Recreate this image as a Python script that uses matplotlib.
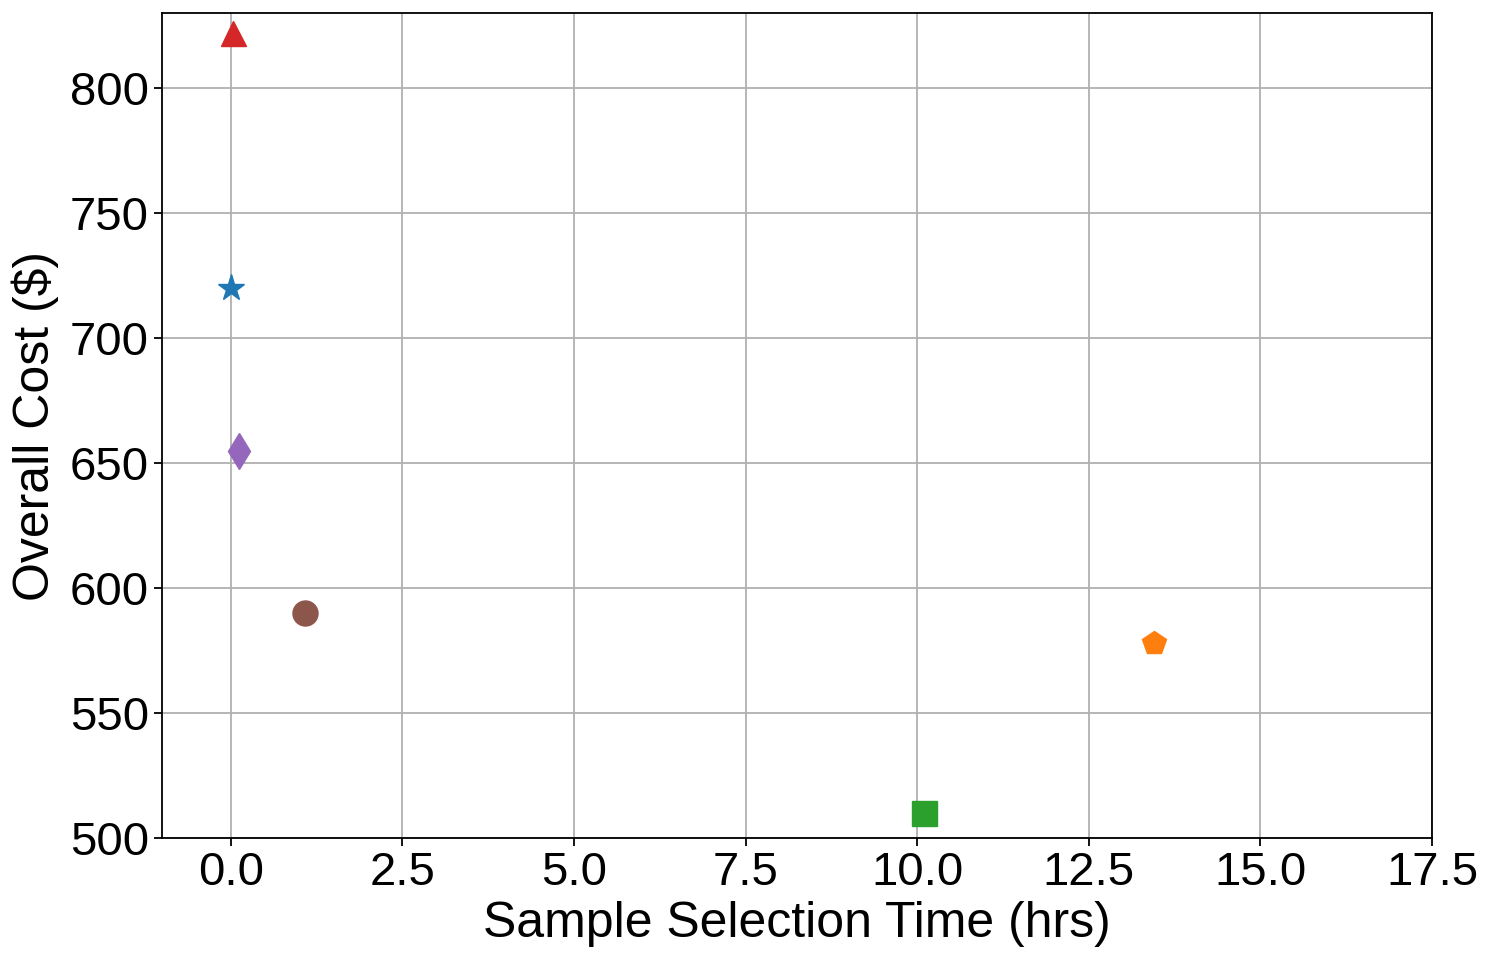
import matplotlib
matplotlib.use("Agg")
import matplotlib.pyplot as plt

plt.rcParams['font.family'] = ['Liberation Sans', 'DejaVu Sans']

methods = ["A", "B", "C", "D", "E", "F"]
times = [0.0, 13.45, 10.1, 0.03, 0.12, 1.08]
costs = [720, 578, 510, 822, 655, 590]
markers = ["*", "p", "s", "^", "d", "o"]
colors = ["#1f77b4", "#ff7f0e", "#2ca02c", "#d62728", "#9467bd", "#8c564b"]

fig = plt.figure(figsize=(14.94, 9.64), dpi=100)
ax = fig.add_axes([162/1494, 1-838/964, (1432-162)/1494, (838-13)/964])

for t, c, m, col in zip(times, costs, markers, colors):
    ms = 19.5 if m == "*" else 18
    ax.plot([t], [c], linestyle="none", marker=m, color=col, markersize=ms, zorder=3)

ax.set_xlim(-1, 17.5)
ax.set_ylim(500, 830)
ax.set_xticks([0, 2.5, 5, 7.5, 10, 12.5, 15, 17.5])
ax.set_xticklabels(["0.0", "2.5", "5.0", "7.5", "10.0", "12.5", "15.0", "17.5"])
ax.set_yticks([500, 550, 600, 650, 700, 750, 800])
ax.grid(True, color="#b0b0b0", linewidth=1.3)
ax.set_axisbelow(True)
ax.tick_params(labelsize=34, length=6, width=1.3)
for s in ax.spines.values():
    s.set_linewidth(1.3)
ax.set_xlabel("Sample Selection Time (hrs)", fontsize=36, labelpad=4)
ax.set_ylabel("Overall Cost ($)", fontsize=36, labelpad=8)

fig.savefig("out.png", dpi=100)
